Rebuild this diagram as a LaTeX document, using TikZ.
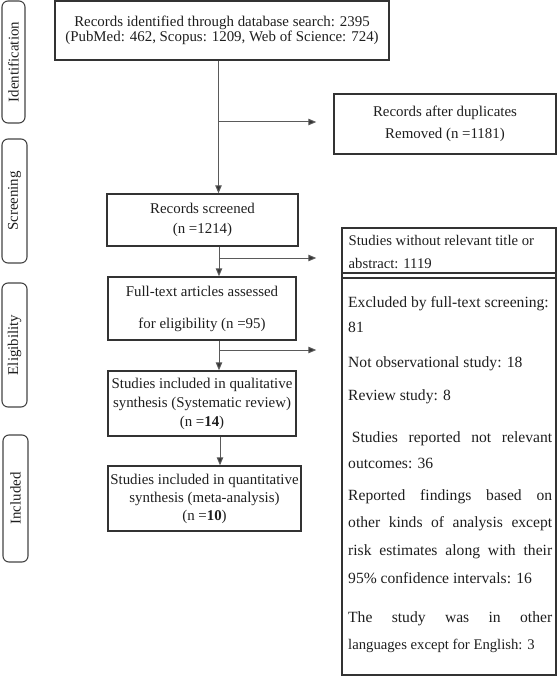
\documentclass[tikz,border=0pt]{standalone}
\usepackage{fontspec}
\setmainfont{Liberation Serif}
\usetikzlibrary{arrows.meta}
\definecolor{boxcol}{HTML}{333333}
\definecolor{linecol}{HTML}{5A5A5A}
\definecolor{sidecol}{HTML}{444444}
\definecolor{txtcol}{HTML}{1E1E1E}
\begin{document}
\begin{tikzpicture}[x=1bp,y=-1bp,
  font=\fontsize{14.9bp}{18bp}\selectfont,
  box/.style={draw=boxcol, line width=1.4bp, inner sep=0pt, align=center, text=txtcol},
  side/.style={draw=sidecol, line width=1.1bp, rounded corners=6bp, inner sep=0pt, text=txtcol},
  conn/.style={draw=linecol, line width=1bp, -{Triangle[length=8bp,width=6.5bp,fill=boxcol]}},
  divider/.style={draw=boxcol, line width=1.1bp},
  txt/.style={inner sep=0pt, anchor=base west, text=txtcol, font=\fontsize{15.6bp}{18bp}\selectfont},
  txtsmall/.style={txt, font=\fontsize{14.7bp}{18bp}\selectfont}]
\useasboundingbox (0,0) rectangle (557,685);

% side labels
\node[side, rotate=90, minimum width=122bp, minimum height=23bp] (sident) at (13.5,62) {Identification};
\node[side, rotate=90, minimum width=124bp, minimum height=25bp] (sscreen) at (14.5,201) {Screening};
\node[side, rotate=90, minimum width=124bp, minimum height=25bp] (selig) at (14.5,345) {Eligibility};
\node[side, rotate=90, minimum width=127bp, minimum height=25bp] (sincl) at (15.5,498.5) {Included};

% main boxes
\node[box, minimum width=334bp, minimum height=59bp] (ident) at (222,30.5)
  {Records identified through database search: 2395\\[-3bp](PubMed: 462, Scopus: 1209, Web of Science: 724)};
\node[box, minimum width=222bp, minimum height=60bp] (dup) at (445,124)
  {Records after duplicates\\[4bp]Removed (n =1181)};
\node[box, minimum width=191bp, minimum height=52bp] (scr) at (202.5,220)
  {Records screened\\[2bp](n =1214)};
\node[box, minimum width=188bp, minimum height=63bp] (full) at (202,308.5)
  {Full-text articles assessed\\[14bp]for eligibility (n =95)};
\node[box, minimum width=188bp, minimum height=65bp] (qual) at (202,403.5)
  {Studies included in qualitative\\[1bp]synthesis (Systematic review)\\[1bp](n =\textbf{14})};
\node[box, minimum width=193bp, minimum height=65bp] (quant) at (204.5,498.5)
  {Studies included in quantitative\\synthesis (meta-analysis)\\(n =\textbf{10})};

% exclusion box
\node[box, minimum width=214bp, minimum height=447bp] (excl) at (449,451.5) {};
\draw[divider] (excl.west |- 0,273) -- (excl.east |- 0,273);
\draw[divider] (excl.west |- 0,278) -- (excl.east |- 0,278);

\node[txtsmall] (e1) at (348.5,245) {Studies without relevant title or};
\node[txtsmall] (e2) at (348.5,268) {abstract: 1119};
\node[txt] (e3) at (348,307) {Excluded by full-text screening:};
\node[txt] (e4) at (348,332) {81};
\node[txt] (e5) at (348,367) {Not observational study: 18};
\node[txt] (e6) at (348,400) {Review study: 8};
\node[txt] (e7) at (348,442) {\makebox[204bp][s]{\hspace*{3.7bp}Studies reported not relevant}};
\node[txt] (e8) at (348,468) {outcomes: 36};
\node[txt] (e9) at (348,500) {\makebox[204bp][s]{Reported findings based on}};
\node[txt] (e10) at (348,527) {\makebox[204bp][s]{other kinds of analysis except}};
\node[txt] (e11) at (348,555) {\makebox[204bp][s]{risk estimates along with their}};
\node[txt] (e12) at (348,583) {95\% confidence intervals: 16};
\node[txt] (e13) at (348,622) {\makebox[204bp][s]{The study was in other}};
\node[txtsmall] (e14) at (348,649) {languages except for English: 3};

% connectors
\coordinate (v1) at (218.5,0);
\coordinate (b1) at (218.5,122);
\draw[conn] (ident.south -| v1) -- (scr.north -| v1);
\draw[conn, shorten >=17bp] (b1) -- (dup.west |- b1);

\coordinate (v2) at (219,0);
\coordinate (b2) at (219,258);
\coordinate (b3) at (219,350);
\draw[conn] (scr.south -| v2) -- (full.north -| v2);
\draw[conn, shorten >=25bp] (b2) -- (excl.west |- b2);
\draw[conn] (full.south -| v2) -- (qual.north -| v2);
\draw[conn, shorten >=25bp] (b3) -- (excl.west |- b3);

\coordinate (v4) at (220,0);
\draw[conn] (qual.south -| v4) -- (quant.north -| v4);
\end{tikzpicture}
\end{document}
